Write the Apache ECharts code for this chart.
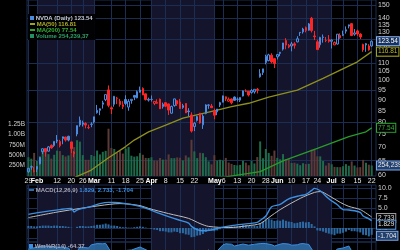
<!DOCTYPE html>
<html><head><meta charset="utf-8">
<script src="https://cdn.jsdelivr.net/npm/echarts@6/dist/echarts.min.js"></script>
<style>html,body{margin:0;padding:0;background:#000}#c{width:400px;height:250px}</style>
</head><body><div id="c"></div>
<script>
// ---------- DATA ----------
const dates = ['01-29','01-30','01-31','02-01','02-02','02-05','02-06','02-07','02-08','02-09',
'02-12','02-13','02-14','02-15','02-16','02-20','02-21','02-22','02-23','02-26',
'02-27','02-28','02-29','03-01','03-04','03-05','03-06','03-07','03-08','03-11',
'03-12','03-13','03-14','03-15','03-18','03-19','03-20','03-21','03-22','03-25',
'03-26','03-27','03-28','04-01','04-02','04-03','04-04','04-05','04-08','04-09',
'04-10','04-11','04-12','04-15','04-16','04-17','04-18','04-19','04-22','04-23',
'04-24','04-25','04-26','04-29','04-30','05-01','05-02','05-03','05-06','05-07',
'05-08','05-09','05-10','05-13','05-14','05-15','05-16','05-17','05-20','05-21',
'05-22','05-23','05-24','05-28','05-29','05-30','05-31','06-03','06-04','06-05',
'06-06','06-07','06-10','06-11','06-12','06-13','06-14','06-17','06-18','06-20',
'06-21','06-24','06-25','06-26','06-27','06-28','07-01','07-02','07-03','07-05',
'07-08','07-09','07-10','07-11','07-12','07-15','07-16','07-17','07-18','07-19','07-22'];
const opens = [61.2,62.9,61.4,62.1,63.9,68.2,69.4,68.4,70.6,70.5,
72.6,70.4,73.2,73.8,74.1,71.9,68.1,75.0,80.8,79.7,
79.4,77.6,79.0,80.0,84.1,85.2,88.0,90.2,95.1,86.4,
88.0,91.0,89.5,86.9,90.3,86.7,89.8,92.3,91.1,93.9,
95.8,93.1,90.0,90.3,88.4,88.5,90.4,86.9,88.8,88.2,
83.9,87.4,89.7,89.1,86.5,88.4,84.9,83.1,78.1,80.7,
83.9,78.8,83.8,87.5,87.2,85.0,84.5,87.7,89.0,91.6,
89.5,90.6,91.5,90.5,90.0,92.0,94.5,94.4,93.7,94.1,
95.4,102.0,104.4,110.2,111.3,114.6,112.5,113.6,115.7,118.4,
124.0,119.8,120.4,121.8,123.1,129.4,129.9,132.9,131.1,139.8,
127.1,123.2,121.2,126.1,124.1,124.6,123.5,121.1,121.7,127.4,
127.5,130.4,134.0,135.8,128.3,130.6,128.4,121.4,121.9,120.4,120.4];
const highs = [62.5,63.3,62.8,63.1,66.2,69.4,69.4,70.3,70.9,72.1,
74.6,72.7,74.0,73.9,74.3,71.9,68.4,78.5,82.4,80.6,
79.9,78.9,79.9,82.3,87.7,86.1,89.7,92.7,97.4,87.0,
92.0,91.6,90.6,89.5,92.4,90.5,90.4,92.3,94.8,96.8,
96.4,93.2,91.2,92.3,89.5,90.4,90.8,88.8,88.8,88.3,
87.4,90.7,90.1,90.6,88.2,88.4,86.2,84.3,80.0,82.8,
84.0,83.4,88.0,88.0,88.2,86.0,85.8,89.2,92.2,91.8,
91.3,90.8,91.8,91.3,91.4,94.8,95.4,94.5,95.5,95.4,
96.1,106.3,106.5,114.9,115.5,115.8,112.7,115.0,116.6,122.4,
125.6,121.7,123.1,122.9,126.9,129.8,132.8,133.7,136.3,140.8,
130.6,124.5,126.5,128.1,126.4,127.7,124.8,123.4,128.3,128.9,
130.8,133.8,135.1,136.2,131.9,131.4,128.9,121.9,122.4,121.6,124.1];
const lows = [60.9,61.9,61.0,61.1,63.7,67.3,66.4,68.3,69.3,70.0,
71.4,69.8,71.0,72.0,72.1,67.7,66.2,74.1,78.0,78.1,
77.3,77.0,77.8,79.4,83.7,83.0,86.0,89.5,86.6,83.5,
86.9,88.1,86.9,85.8,87.6,85.0,88.3,90.0,90.9,93.7,
92.5,89.8,89.3,89.3,87.6,88.2,85.9,86.0,86.7,83.1,
83.6,86.9,87.2,85.9,85.9,84.0,82.4,75.6,76.2,80.2,
79.3,77.1,83.4,85.9,86.4,81.2,83.0,86.7,88.9,89.6,
89.2,88.0,89.6,89.3,89.1,91.8,94.0,91.8,93.2,93.2,
93.3,101.6,103.0,109.1,110.9,109.7,106.9,112.0,114.0,117.5,
118.3,119.0,117.0,118.7,122.8,127.1,128.7,129.6,130.7,129.5,
124.3,118.0,119.3,122.6,122.9,122.6,118.8,121.0,121.4,125.1,
127.0,128.7,132.4,127.0,127.2,127.2,125.0,116.7,116.7,117.4,119.9];
const closes = [62.4,62.8,61.5,63.0,66.1,69.3,68.2,70.0,69.6,72.1,
72.2,72.1,73.9,72.6,72.6,69.4,67.5,78.5,78.8,79.1,
78.7,77.7,79.1,82.3,85.2,85.9,88.7,92.7,87.5,85.8,
91.9,90.9,87.9,87.8,88.4,89.4,90.4,91.4,94.2,95.0,
92.5,90.3,90.4,90.4,89.4,88.9,85.9,88.0,87.1,85.3,
87.0,90.6,88.2,86.0,87.4,84.0,84.6,76.2,79.5,82.4,
79.6,82.6,87.7,87.7,86.4,83.0,85.8,88.8,92.1,90.6,
90.4,88.7,89.9,90.4,91.3,94.6,94.4,92.5,94.8,95.4,
94.9,103.8,106.5,113.9,114.8,110.5,109.6,115.0,116.4,122.4,
121.0,120.9,121.8,120.9,125.2,129.6,131.9,131.0,135.6,130.8,
126.6,118.1,126.1,126.4,124.0,123.5,124.3,122.7,128.3,125.8,
128.2,131.4,134.9,127.4,129.2,128.4,126.4,118.0,121.1,117.9,123.54];
// volume in millions of shares
const volumes = [453,418,558,362,477,618,642,527,419,512,
613,602,505,471,497,703,698,865,830,504,
391,391,508,479,615,520,584,608,1142,678,
652,560,605,542,663,698,490,467,476,552,
513,437,433,452,374,370,434,395,397,521,
432,432,448,442,376,496,448,875,595,433,
560,552,454,353,282,503,372,392,376,437,
325,293,266,257,268,369,323,261,363,303,
458,835,429,652,557,488,614,438,403,529,
410,412,315,321,299,260,309,288,294,637,
655,476,474,362,253,315,284,221,215,214,
237,287,248,353,252,208,214,390,320,273,254.239];
const volumeLastText = '254,239,37';
const ma50 = [['02-16',58.5],['02-29',61.8],['03-08',66.0],['03-18',70.1],['03-21',72.6],['03-28',75.9],
['04-08',78.7],['04-16',81.7],['04-24',83.5],['05-02',85.3],['05-09',86.9],['05-17',88.5],['05-29',91.5],
['06-12',95.0],['06-26',101.2],['07-05',105.8],['07-15',110.6],['07-22',116.81]];
const ma200 = [['04-24',59.0],['05-07',59.6],['05-17',60.7],['05-23',61.3],['06-05',64.9],['06-24',69.4],
['07-10',74.0],['07-18',75.9],['07-22',77.54]];
const macdLine = [['01-29',3.4],['02-02',3.9],['02-13',4.6],['02-20',4.9],['02-21',4.0],['02-22',4.5],['02-26',4.9],
['02-29',5.4],['03-05',6.1],['03-08',6.4],['03-12',6.4],['03-18',6.1],['03-25',5.4],['03-28',4.7],['04-04',3.6],
['04-10',2.6],['04-15',1.9],['04-18',1.2],['04-19',0.4],['04-23',-0.4],['04-25',-0.7],['04-30',-0.5],['05-03',0.1],
['05-09',0.6],['05-17',1.1],['05-22',1.4],['05-23',1.9],['05-28',3.0],['05-30',5.3],['06-04',5.9],['06-07',7.3],
['06-13',8.1],['06-17',8.4],['06-20',9.4],['06-21',9.9],['06-25',9.3],['06-28',7.3],['07-03',5.8],['07-08',4.6],
['07-10',4.5],['07-12',4.3],['07-16',3.9],['07-17',3.0],['07-19',2.3],['07-22',1.829]];
const signalLine = [['01-29',2.6],['02-13',4.1],['03-05',5.6],['03-14',6.1],['03-25',5.6],['03-28',4.9],['04-09',3.6],
['04-18',2.4],['04-24',1.1],['04-29',0.4],['05-08',0.1],['05-17',0.6],['05-23',1.1],['05-29',2.6],['06-04',4.6],
['06-13',7.4],['06-21',8.9],['06-25',9.1],['06-28',8.1],['07-05',6.4],['07-10',5.4],['07-16',4.6],['07-22',2.733]];
const macdHist = [0.5,0.5,0.4,0.4,0.5,0.6,0.6,0.6,0.5,0.6,
0.6,0.5,0.5,0.4,0.3,0.1,0.0,0.3,0.5,0.5,
0.4,0.4,0.5,0.6,0.8,0.8,0.9,1.1,0.9,0.6,
0.6,0.5,0.3,0.2,0.2,0.1,0.1,0.2,0.3,0.4,
0.3,0.1,0.0,-0.2,-0.4,-0.5,-0.8,-0.8,-0.9,-1.1,
-1.1,-0.9,-1.0,-1.3,-1.3,-1.6,-1.7,-2.3,-2.2,-1.9,
-1.8,-1.5,-1.0,-0.7,-0.6,-0.8,-0.6,-0.3,0.1,0.3,
0.4,0.4,0.4,0.4,0.5,0.7,0.7,0.5,0.6,0.6,
0.5,1.2,1.6,2.1,2.3,2.1,1.8,1.9,1.8,2.1,
1.8,1.6,1.5,1.2,1.3,1.5,1.6,1.4,1.5,1.0,
0.4,-0.6,-0.7,-0.9,-1.2,-1.4,-1.6,-1.8,-1.4,-1.4,
-1.2,-0.9,-0.5,-0.8,-0.8,-0.9,-1.1,-1.7,-1.8,-2.1,-1.704];
const williams = [['01-29',-35],['02-05',-20],['02-12',-25],['02-16',-30],['02-21',-70],['02-23',-25],['02-28',-30],
['02-29',-14],['03-04',-8],['03-06',-9],['03-07',-7],['03-08',-30],['03-11',-55],['03-14',-45],['03-20',-40],
['03-25',-25],['03-28',-45],['04-04',-70],['04-10',-60],['04-16',-70],['04-19',-95],['04-24',-70],['04-29',-40],
['05-01',-60],['05-06',-14],['05-07',-9],['05-09',-11],['05-10',-20],['05-15',-10],['05-17',-16],['05-21',-11],
['05-23',-8],['05-24',-7],['05-28',-8],['05-30',-13],['05-31',-20],['06-04',-11],['06-05',-8],['06-07',-10],
['06-10',-16],['06-12',-14],['06-13',-9],['06-14',-8],['06-17',-10],['06-18',-12],['06-20',-35],['06-24',-75],
['06-26',-50],['07-01',-60],['07-03',-35],['07-08',-30],['07-10',-20],['07-11',-45],['07-16',-50],['07-17',-90],
['07-19',-85],['07-22',-64.37]];
const xTickDates = ['01-29','02-01','02-12','02-20','02-26','03-01','03-11','03-18','03-25','04-01','04-08','04-15',
'04-22','05-01','05-06','05-13','05-20','05-28','06-03','06-10','06-17','06-24','07-01','07-08','07-15','07-22'];
const xTickLabels = ['29','Feb','12','20','26','Mar','11','18','25','Apr','8','15','22','May','6','13','20','28',
'Jun','10','17','24','Jul','8','15','22'];
const monthBands = [['02-01','03-01'],['04-01','05-01'],['06-03','07-01']];
const priceTicks = [60,65,70,75,80,85,90,95,100,105,110,115,120,125,130,135,140,150];
const priceGridTicks = [65,80,95,110,125,140,150];
const volumeTicks = [250,500,750,1000,1250];
const macdTicks = [-2.5,0,2.5,5,7.5,10];

// ---------- STYLE ----------
const GRID = '#1b2d52', BAND = '#14142c', UP = '#4a8be0', DOWN = '#ff2424';
const FONT = 'Liberation Sans';
const catDates = dates.concat(['07-23']);
const last = dates.length - 1;
const tickMap = {}; xTickDates.forEach((d, i) => tickMap[d] = xTickLabels[i]);
// labels that sit tight against a month name
const tightTicks = ['01-29'];          // drawn by the second (MACD top) axis
const mergedTicks = { '05-01': '05-06' }; // drawn in the same label as the month name
const mergedAway = Object.values(mergedTicks);
const monthNames = ['Feb','Mar','Apr','May','Jun','Jul'];

const candleData = dates.map((d, i) => {
  const o = opens[i], c = closes[i], prev = i > 0 ? closes[i - 1] : o;
  const col = c >= prev ? UP : DOWN;
  const fill = c < o ? col : 'rgba(0,0,0,0)';
  return { value: [o, c, lows[i], highs[i]],
    itemStyle: { color: fill, color0: fill, borderColor: col, borderColor0: col, borderColorDoji: col } };
});
const volData = volumes.map((v, i) => {
  const up = i === 0 ? closes[i] >= opens[i] : closes[i] >= closes[i - 1];
  return { value: v, itemStyle: { color: up ? '#1e6a4a' : '#5c3a38' } };
});

function bandsArea() {
  return { silent: true, z: 0, itemStyle: { color: BAND }, data: monthBands.map(b => [{ xAxis: b[0] }, { xAxis: b[1] }]) };
}
function vLines(extra) {
  const d = xTickDates.map(x => ({ xAxis: x, label: { show: false } }));
  return { silent: true, z: 1, symbol: 'none', animation: false,
    lineStyle: { color: GRID, width: 1, type: 'solid' },
    data: d.concat(extra || []) };
}
function tag(val, text, bg, border, color, offset) {
  return { silent: true, z: 10, symbol: 'none', animation: false, lineStyle: { color: 'rgba(0,0,0,0)' },
    data: [{ yAxis: val }],
    label: { show: true, position: 'end', distance: 1, formatter: text, backgroundColor: bg, borderColor: border,
      borderWidth: 1, color: color, fontSize: 6.5, fontFamily: FONT, padding: [1, 1, 0, 1], offset: offset || [0, 0] } };
}
const priceLabelLines = priceTicks.map(v => ({ yAxis: v,
  lineStyle: { color: priceGridTicks.includes(v) ? GRID : 'rgba(0,0,0,0)' },
  label: { show: true, position: 'end', distance: 2, formatter: String(v), color: '#d0d0d0', fontSize: 7, fontFamily: FONT } }));

const fmtVol = v => v >= 1000 ? (v / 1000).toFixed(2) + 'B' : v + 'M';
const dateLabel = v => {
  const l = tickMap[v]; if (l === undefined) return '';
  if (mergedTicks[v]) return '{mp|' + l + '}{d|' + tickMap[mergedTicks[v]] + '}';
  return monthNames.includes(l) ? '{m|' + l + '}' : l;
};
const dateRich = {
  m: { fontWeight: 'bold', fontSize: 7, color: '#ffffff', fontFamily: FONT },
  mp: { fontWeight: 'bold', fontSize: 7, color: '#ffffff', fontFamily: FONT, padding: [0, 0, 0, 5] },
  d: { fontSize: 7, color: '#e6e6e6', fontFamily: FONT }
};

const option = {
  backgroundColor: '#000',
  animation: false,
  textStyle: { fontFamily: FONT },
  title: [
    { left: 28, top: 14, padding: [1, 3, 1, 2], backgroundColor: 'rgba(0,0,0,0.9)',
      text: '{ib| }{t1| NVDA (Daily) ' + closes[last].toFixed(2) + '}\n{i50| }{t2| MA(50) ' + ma50[ma50.length - 1][1].toFixed(2) +
        '}\n{i200| }{t3| MA(200) ' + ma200[ma200.length - 1][1].toFixed(2) + '}\n{iv| }{t4| Volume ' + volumeLastText + '}',
      textStyle: { fontSize: 6, lineHeight: 6, rich: {
        ib: { width: 4, height: 4, backgroundColor: UP, lineHeight: 6 },
        i50: { width: 5, height: 2, backgroundColor: '#a3a322', lineHeight: 6 },
        i200: { width: 5, height: 2, backgroundColor: '#2fa52f', lineHeight: 6 },
        iv: { width: 4, height: 4, backgroundColor: '#249060', lineHeight: 6 },
        t1: { color: '#c4cad8', fontSize: 6, lineHeight: 6, fontFamily: FONT },
        t2: { color: '#b0b028', fontSize: 6, lineHeight: 6, fontFamily: FONT },
        t3: { color: '#35b035', fontSize: 6, lineHeight: 6, fontFamily: FONT },
        t4: { color: '#2fa068', fontSize: 6, lineHeight: 6, fontFamily: FONT } } } },
    { left: 28, top: 186, padding: 1,
      text: '{ic| }{a| MACD(12,26,9)}{b| ' + macdLine[macdLine.length - 1][1].toFixed(3) + ', ' +
        signalLine[signalLine.length - 1][1].toFixed(3) + ', ' + macdHist[last].toFixed(3) + '}',
      textStyle: { fontSize: 6, rich: {
        ic: { width: 5, height: 1.5, backgroundColor: '#3d8fe0' },
        a: { color: '#a8a8b8', fontSize: 6, fontFamily: FONT },
        b: { color: '#3d8fe0', fontSize: 6, fontFamily: FONT } } } },
    { left: 28, top: 242, padding: 1,
      text: '{ic| }{a| Wm%R(14) ' + williams[williams.length - 1][1].toFixed(2) + '}',
      textStyle: { fontSize: 6, rich: {
        ic: { width: 4, height: 4, backgroundColor: '#3d8fe0' },
        a: { color: '#a8a8b8', fontSize: 6, fontFamily: FONT } } } }
  ],
  grid: [
    { left: 27, right: 24, top: 0, height: 176, show: true, borderColor: GRID, borderWidth: 1 },
    { left: 27, right: 24, top: 185, height: 57, show: true, borderColor: GRID, borderWidth: 1 },
    { left: 27, right: 24, top: 242, height: 80, show: true, borderColor: GRID, borderWidth: 1 }
  ],
  xAxis: [
    { type: 'category', gridIndex: 0, data: catDates, boundaryGap: true,
      axisLine: { show: false }, axisTick: { show: false }, splitLine: { show: false },
      axisLabel: { show: true, margin: 2, fontSize: 7, color: '#e6e6e6', fontFamily: FONT, hideOverlap: false,
        showMinLabel: true, showMaxLabel: true,
        interval: (i, v) => v in tickMap && !tightTicks.includes(v) && !mergedAway.includes(v),
        formatter: dateLabel, rich: dateRich } },
    { type: 'category', gridIndex: 1, data: catDates, boundaryGap: true, position: 'top',
      axisLine: { show: false }, axisTick: { show: false }, splitLine: { show: false },
      axisLabel: { show: true, margin: 0, fontSize: 7, color: '#e6e6e6', fontFamily: FONT, hideOverlap: false,
        showMinLabel: true, showMaxLabel: true, interval: (i, v) => tightTicks.includes(v),
        formatter: dateLabel, rich: dateRich } },
    { type: 'category', gridIndex: 2, data: catDates, boundaryGap: true,
      axisLine: { show: false }, axisTick: { show: false }, splitLine: { show: false }, axisLabel: { show: false } }
  ],
  yAxis: [
    { type: 'log', logBase: 10, gridIndex: 0, min: 59.85, max: 154.2, position: 'right',
      axisLabel: { show: false }, axisLine: { show: false }, axisTick: { show: false }, splitLine: { show: false } },
    { type: 'value', gridIndex: 0, min: 0, max: 4250, interval: 250, position: 'left',
      axisLabel: { margin: 2, fontSize: 6.5, color: '#d0d0d0', fontFamily: FONT,
        formatter: v => volumeTicks.includes(v) ? fmtVol(v) : '' },
      axisLine: { show: false }, axisTick: { show: false }, splitLine: { show: false } },
    { type: 'value', gridIndex: 1, min: -3.5, max: 10.75, position: 'right',
      axisLabel: { margin: 2, fontSize: 7, color: '#d0d0d0', fontFamily: FONT, customValues: macdTicks,
        formatter: v => v.toFixed(1) },
      axisLine: { show: false }, axisTick: { show: false, customValues: macdTicks },
      splitLine: { show: true, lineStyle: { color: GRID, width: 1 } } },
    { type: 'value', gridIndex: 2, min: -100, max: 0, position: 'right',
      axisLabel: { show: false }, axisLine: { show: false }, axisTick: { show: false }, splitLine: { show: false } }
  ],
  series: [
    { name: 'bgPrice', type: 'line', xAxisIndex: 0, yAxisIndex: 0, data: [], silent: true,
      markArea: bandsArea(), markLine: vLines(priceLabelLines) },
    { name: 'Volume', type: 'bar', xAxisIndex: 0, yAxisIndex: 1, z: 2, barWidth: 2, data: volData,
      markLine: tag(volumes[last], volumeLastText, '#22406e', '#7aa6e6', '#e8e8e8') },
    { name: 'MA(200)', type: 'line', xAxisIndex: 0, yAxisIndex: 0, z: 3, data: ma200, showSymbol: false, symbol: 'none',
      lineStyle: { color: '#2a9a2a', width: 1.3 }, clip: true,
      markLine: tag(ma200[ma200.length - 1][1], ma200[ma200.length - 1][1].toFixed(2), '#000', '#2fa52f', '#35b035') },
    { name: 'MA(50)', type: 'line', xAxisIndex: 0, yAxisIndex: 0, z: 3, data: ma50, showSymbol: false, symbol: 'none',
      lineStyle: { color: '#8f8f1e', width: 1.3 }, clip: true,
      markLine: tag(ma50[ma50.length - 1][1], ma50[ma50.length - 1][1].toFixed(2), '#000', '#a3a322', '#b8b830') },
    { name: 'NVDA', type: 'candlestick', xAxisIndex: 0, yAxisIndex: 0, z: 4, barWidth: 2, data: candleData,
      itemStyle: { borderWidth: 1 }, clip: true,
      markLine: tag(closes[last], closes[last].toFixed(2), '#17325f', '#8fb4ee', '#ffffff') },

    { name: 'bgMacd', type: 'line', xAxisIndex: 1, yAxisIndex: 2, data: [], silent: true,
      markArea: bandsArea(), markLine: vLines() },
    { name: 'Hist', type: 'bar', xAxisIndex: 1, yAxisIndex: 2, z: 2, barWidth: 2, data: macdHist,
      itemStyle: { color: '#2d6aa4' },
      markLine: tag(macdHist[last], macdHist[last].toFixed(3), '#22406e', '#7aa6e6', '#e8e8e8', [0, 1]) },
    { name: 'Signal', type: 'line', xAxisIndex: 1, yAxisIndex: 2, z: 3, data: signalLine, symbol: 'none', smooth: 0.3,
      lineStyle: { color: '#bdbdbd', width: 1 },
      markLine: tag(signalLine[signalLine.length - 1][1], signalLine[signalLine.length - 1][1].toFixed(3), '#000', '#9a9a9a', '#e0e0e0', [0, 1]) },
    { name: 'MACD', type: 'line', xAxisIndex: 1, yAxisIndex: 2, z: 4, data: macdLine, symbol: 'none', smooth: 0.3,
      lineStyle: { color: '#3d8fe0', width: 1.4 },
      markLine: tag(macdLine[macdLine.length - 1][1], macdLine[macdLine.length - 1][1].toFixed(3), '#000', '#5a9ae6', '#e0e0e0', [0, 4]) },

    { name: 'bgWill', type: 'line', xAxisIndex: 2, yAxisIndex: 3, data: [], silent: true,
      markArea: bandsArea(), markLine: vLines() },
    { name: 'Wm%R', type: 'line', xAxisIndex: 2, yAxisIndex: 3, z: 3, data: williams, symbol: 'none',
      lineStyle: { color: '#3d8fe0', width: 1 }, areaStyle: { color: '#2d6aa4', opacity: 0.9, origin: 'start' } }
  ]
};
const chart = echarts.init(document.getElementById('c'), null, { renderer: 'canvas', width: 400, height: 250 });
chart.setOption(option);
</script></body></html>
